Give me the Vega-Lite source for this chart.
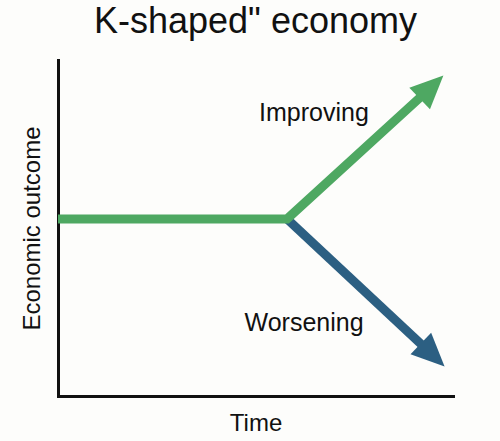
{
  "$schema": "https://vega.github.io/schema/vega-lite/v6.json",
  "width": 395,
  "height": 336,
  "autosize": {"type": "none"},
  "padding": {"left": 58, "top": 60, "right": 47, "bottom": 45},
  "background": "#fdfdfb",
  "title": {
    "text": "K-shaped\" economy",
    "font": "Liberation Sans",
    "fontSize": 36,
    "fontWeight": "normal",
    "color": "#111111",
    "anchor": "middle",
    "baseline": "alphabetic",
    "offset": 23,
    "dy": 32
  },
  "config": {
    "view": {"stroke": null},
    "axis": {
      "domain": true,
      "domainColor": "#111111",
      "domainWidth": 3,
      "domainCap": "square",
      "ticks": false,
      "labels": false,
      "grid": false,
      "titleFont": "Liberation Sans",
      "titleFontSize": 24,
      "titleFontWeight": "normal",
      "titleColor": "#111111"
    }
  },
  "datasets": {
    "lines": [
      {"series": "Improving", "step": 1, "x": 0, "y": 52.7},
      {"series": "Improving", "step": 2, "x": 58, "y": 52.7},
      {"series": "Improving", "step": 3, "x": 94.5, "y": 91.9},
      {"series": "Worsening", "step": 1, "x": 58, "y": 52.7},
      {"series": "Worsening", "step": 2, "x": 94.8, "y": 12.3}
    ],
    "heads": [
      {"series": "Improving", "x": 94.56, "y": 91.96},
      {"series": "Worsening", "x": 94.86, "y": 12.2}
    ],
    "labels": [
      {"label": "Improving", "x": 64.8, "y": 81.8},
      {"label": "Worsening", "x": 62.3, "y": 19.3}
    ]
  },
  "encoding": {
    "x": {"field": "x", "type": "quantitative", "scale": {"domain": [0, 100]}, "axis": {"title": "Time", "titlePadding": 15}},
    "y": {"field": "y", "type": "quantitative", "scale": {"domain": [0, 100]}, "axis": {"title": "Economic outcome", "titlePadding": 14}}
  },
  "layer": [
    {
      "data": {"name": "lines"},
      "transform": [{"filter": "datum.series == 'Worsening'"}],
      "mark": {"type": "line", "strokeWidth": 9, "strokeCap": "butt", "color": "#2c5f82"},
      "encoding": {"order": {"field": "step", "type": "quantitative"}}
    },
    {
      "data": {"name": "lines"},
      "transform": [{"filter": "datum.series == 'Improving'"}],
      "mark": {"type": "line", "strokeWidth": 9, "strokeCap": "butt", "color": "#4ea862"},
      "encoding": {"order": {"field": "step", "type": "quantitative"}}
    },
    {
      "data": {"name": "heads"},
      "transform": [{"filter": "datum.series == 'Improving'"}],
      "mark": {"type": "point", "shape": "M0,-1L-0.9,1L0.9,1Z", "size": 1089, "filled": true, "opacity": 1, "color": "#4ea862", "angle": 46}
    },
    {
      "data": {"name": "heads"},
      "transform": [{"filter": "datum.series == 'Worsening'"}],
      "mark": {"type": "point", "shape": "M0,-1L-0.9,1L0.9,1Z", "size": 1089, "filled": true, "opacity": 1, "color": "#2c5f82", "angle": 134}
    },
    {
      "data": {"name": "labels"},
      "mark": {"type": "text", "font": "Liberation Sans", "fontSize": 25, "align": "center", "baseline": "alphabetic", "color": "#111111"},
      "encoding": {"text": {"field": "label", "type": "nominal"}}
    }
  ]
}
